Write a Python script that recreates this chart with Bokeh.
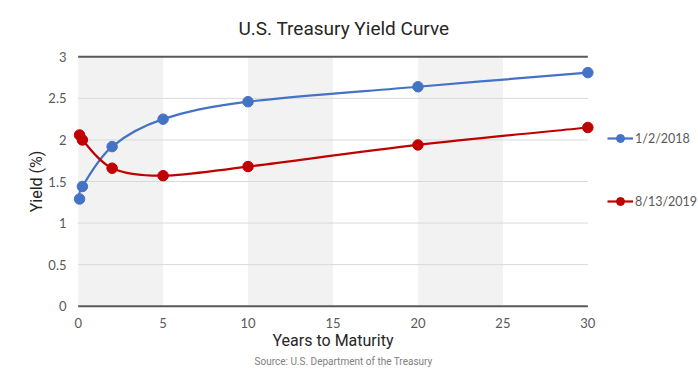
from bokeh.plotting import figure
from bokeh.models import Range1d, Legend, LegendItem, Title, FixedTicker, ColumnDataSource
from bokeh.embed import file_html
from bokeh.resources import INLINE

# ---- data ----
maturity = [1 / 12, 0.25, 2, 5, 10, 20, 30]
yield_2018 = [1.29, 1.44, 1.92, 2.25, 2.46, 2.64, 2.81]
yield_2019 = [2.06, 2.00, 1.66, 1.57, 1.68, 1.94, 2.15]
series_names = ["1/2/2018", "8/13/2019"]
x_ticks = [0, 5, 10, 15, 20, 25, 30]
y_ticks = [0, 0.5, 1, 1.5, 2, 2.5, 3]
band_starts = [0, 10, 20]
band_width = 5

BLUE = "#4472C4"
RED = "#C00000"
NARROW = "Roboto, sans-serif"
BODY = "Lato, sans-serif"


def smooth_segments(xs, ys):
    """Cubic Bezier control points (Catmull-Rom style) for a smoothed line."""
    n = len(xs)
    seg = dict(x0=[], y0=[], x1=[], y1=[], cx0=[], cy0=[], cx1=[], cy1=[])
    for i in range(n - 1):
        xp, yp = (xs[i - 1], ys[i - 1]) if i > 0 else (xs[i], ys[i])
        xn, yn = (xs[i + 2], ys[i + 2]) if i + 2 < n else (xs[i + 1], ys[i + 1])
        seg["x0"].append(xs[i]); seg["y0"].append(ys[i])
        seg["x1"].append(xs[i + 1]); seg["y1"].append(ys[i + 1])
        seg["cx0"].append(xs[i] + (xs[i + 1] - xp) / 6)
        seg["cy0"].append(ys[i] + (ys[i + 1] - yp) / 6)
        seg["cx1"].append(xs[i + 1] - (xn - xs[i]) / 6)
        seg["cy1"].append(ys[i + 1] - (yn - ys[i]) / 6)
    return ColumnDataSource(seg)


p = figure(
    frame_width=525, frame_height=256,
    x_range=Range1d(-0.45, 30.45), y_range=Range1d(-0.04, 3.04),
    output_backend="svg", toolbar_location=None,
    min_border_left=70, min_border_right=95, min_border_top=53, min_border_bottom=64,
    background_fill_color="white", border_fill_color="white",
)
p.outline_line_color = None
p.grid.visible = False

# shaded bands
p.quad(left=band_starts, right=[b + band_width for b in band_starts],
       bottom=min(y_ticks), top=max(y_ticks), fill_color="#F2F2F2", line_color=None)

# horizontal grid lines
inner = [v for v in y_ticks if v not in (min(y_ticks), max(y_ticks))]
p.segment(x0=min(x_ticks), x1=max(x_ticks), y0=inner, y1=inner,
          line_color="#D9D9D9", line_width=1)
edges = [min(y_ticks), max(y_ticks)]
p.segment(x0=min(x_ticks), x1=max(x_ticks), y0=edges, y1=edges,
          line_color="#595959", line_width=2)

# series
items = []
for name, ys, col in zip(series_names, [yield_2018, yield_2019], [BLUE, RED]):
    src = smooth_segments(maturity, ys)
    b = p.bezier(x0="x0", y0="y0", x1="x1", y1="y1", cx0="cx0", cy0="cy0",
                 cx1="cx1", cy1="cy1", source=src, line_color=col, line_width=2.2)
    s = p.scatter(maturity, ys, size=10.5, fill_color=col, line_color=col)
    items.append(LegendItem(label=name, renderers=[b, s]))

# axes
p.xaxis.ticker = FixedTicker(ticks=x_ticks)
p.yaxis.ticker = FixedTicker(ticks=y_ticks)
for ax in (p.xaxis[0], p.yaxis[0]):
    ax.axis_line_color = None
    ax.major_tick_line_color = None
    ax.minor_tick_line_color = None
    ax.major_label_text_font = BODY
    ax.major_label_text_font_size = "13px"
    ax.major_label_text_color = "#595959"
    ax.axis_label_text_font = NARROW
    ax.axis_label_text_font_size = "16px"
    ax.axis_label_text_font_style = "normal"
    ax.axis_label_text_color = "#262626"
p.xaxis.axis_label = "Years to Maturity"
p.yaxis.axis_label = "Yield (%)"
p.xaxis.major_label_standoff = 2
p.yaxis.major_label_standoff = -2
p.xaxis.axis_label_standoff = 0
p.yaxis.axis_label_standoff = -1
p.yaxis.major_label_overrides = {v: ("%g" % v) for v in y_ticks}

# title
p.title = Title(text="U.S. Treasury Yield Curve", align="left", offset=168,
                standoff=28,
                text_font=NARROW, text_font_size="19px", text_font_style="normal",
                text_color="#262626")

# source note
p.add_layout(Title(text="Source: U.S. Department of the Treasury", align="left",
                   offset=184, standoff=2, text_font=NARROW, text_font_size="10px",
                   text_font_style="normal", text_color="#7F7F7F"), "below")

legend = Legend(items=items, location=(12, 98), margin=0, padding=0, spacing=43,
                glyph_width=26, glyph_height=20, label_height=20, label_standoff=2,
                label_text_font=BODY, label_text_font_size="12.5px",
                label_text_color="#595959", border_line_color=None,
                background_fill_alpha=0)
p.add_layout(legend, "right")

open("out.html", "w").write(file_html(p, INLINE))
